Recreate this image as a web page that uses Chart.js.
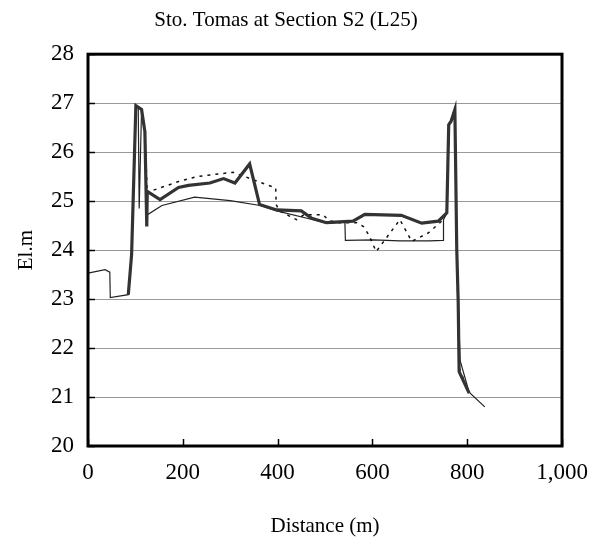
<!DOCTYPE html>
<html>
<head>
<meta charset="utf-8">
<script src="https://cdn.jsdelivr.net/npm/chart.js@4.4.1/dist/chart.umd.min.js"></script>
<style>
  html, body { margin: 0; padding: 0; background: #fff; }
  #wrap { width: 595px; height: 543px; }
</style>
</head>
<body>
<div id="wrap"><canvas id="c" width="595" height="543"></canvas></div>
<script>
// ===== data (distance m, elevation m) =====
const chartTitle = 'Sto. Tomas at Section S2 (L25)';
const xTicks = [0, 200, 400, 600, 800, 1000];

// thick line
const thickX = [85, 92, 101, 113, 120, 124, 125, 152, 191, 212, 257, 286, 310, 341, 362, 398, 450, 472, 503, 559, 584, 661, 704, 739, 757, 761, 766, 774, 778, 781, 783, 804];
const thickY = [23.09, 23.91, 26.95, 26.87, 26.42, 24.48, 25.2, 25.03, 25.28, 25.32, 25.37, 25.46, 25.37, 25.76, 24.93, 24.82, 24.8, 24.65, 24.56, 24.59, 24.73, 24.71, 24.55, 24.59, 24.76, 26.56, 26.63, 26.87, 24.0, 22.94, 21.52, 21.08];

// dotted line
const dotX = [85, 92, 101, 113, 120, 125, 137, 191, 229, 306, 359, 396, 397, 404, 440, 455, 496, 509, 530, 567, 581, 593, 608, 658, 683, 718, 746, 757, 762, 774, 778, 783, 804];
const dotY = [23.09, 23.91, 26.95, 26.87, 26.42, 25.15, 25.22, 25.4, 25.5, 25.59, 25.4, 25.27, 24.93, 24.8, 24.62, 24.72, 24.72, 24.6, 24.56, 24.56, 24.48, 24.3, 23.97, 24.62, 24.18, 24.35, 24.59, 24.76, 26.56, 26.87, 24.0, 21.6, 21.08];

// thin line
const thinX = [0, 36, 46, 47, 85, 92, 101, 106, 108, 113, 120, 125, 156, 225, 300, 363, 398, 475, 503, 542, 543, 602, 658, 721, 749, 750, 757, 762, 765, 774, 778, 781, 785, 804, 837];
const thinY = [23.53, 23.6, 23.55, 23.03, 23.09, 23.9, 26.95, 26.9, 24.85, 26.87, 26.42, 24.72, 24.91, 25.08, 25.01, 24.91, 24.8, 24.62, 24.55, 24.57, 24.2, 24.21, 24.19, 24.19, 24.2, 24.62, 24.76, 26.6, 26.63, 26.87, 24.0, 22.94, 21.75, 21.1, 20.8];

const pts = (xs, ys) => xs.map((x, i) => ({ x, y: ys[i] }));

// plot frame + inward ticks
const framePlugin = {
  id: 'frame',
  afterDraw(chart) {
    const { ctx, chartArea: a, scales } = chart;
    ctx.save();
    ctx.strokeStyle = '#000';
    ctx.lineWidth = 1.5;
    xTicks.forEach(v => {
      const px = Math.round(scales.x.getPixelForValue(v)) + 0.5;
      ctx.beginPath(); ctx.moveTo(px, a.bottom); ctx.lineTo(px, a.bottom - 7); ctx.stroke();
    });
    for (let v = 20; v <= 28; v++) {
      const py = Math.round(scales.y.getPixelForValue(v)) + 0.5;
      ctx.beginPath(); ctx.moveTo(a.left, py); ctx.lineTo(a.left + 7, py); ctx.stroke();
    }
    ctx.lineWidth = 3;
    ctx.strokeRect(a.left, a.top, a.right - a.left, a.bottom - a.top);
    ctx.restore();
  }
};

new Chart(document.getElementById('c').getContext('2d'), {
  type: 'line',
  data: {
    datasets: [
      { label: 'thick', data: pts(thickX, thickY), borderColor: '#333', borderWidth: 3.2, pointRadius: 0, tension: 0, fill: false },
      { label: 'dotted', data: pts(dotX, dotY), borderColor: '#111', borderWidth: 1.5, borderDash: [3, 5], pointRadius: 0, tension: 0, fill: false },
      { label: 'thin', data: pts(thinX, thinY), borderColor: '#222', borderWidth: 1.2, pointRadius: 0, tension: 0, fill: false }
    ]
  },
  options: {
    responsive: false,
    animation: false,
    layout: { padding: { left: 10, right: 33, top: 0, bottom: 0 } },
    plugins: {
      legend: { display: false },
      tooltip: { enabled: false },
      title: {
        display: true, text: chartTitle, color: '#000',
        font: { family: 'Liberation Serif', size: 21, weight: 'normal' },
        padding: { top: 8, bottom: 21 }
      }
    },
    scales: {
      x: {
        type: 'linear', min: 0, max: 1000,
        afterBuildTicks: (s) => { s.ticks = xTicks.map(v => ({ value: v })); },
        ticks: { color: '#000', font: { family: 'Liberation Serif', size: 23 }, padding: 5, maxRotation: 0,
                 callback: (v) => Number(v).toLocaleString('en-US') },
        grid: { display: false },
        border: { display: false },
        title: { display: true, text: 'Distance (m)', color: '#000', font: { family: 'Liberation Serif', size: 21 }, padding: { top: 16, bottom: 4 } },
        afterFit: (s) => { s.height = 97; }
      },
      y: {
        min: 20, max: 28,
        ticks: { stepSize: 1, color: '#000', font: { family: 'Liberation Serif', size: 23 }, padding: 14 },
        grid: { color: '#999', lineWidth: 1, drawTicks: false },
        border: { display: false },
        title: { display: true, text: 'El.m', color: '#000', font: { family: 'Liberation Serif', size: 21 }, padding: { bottom: 8 } },
        afterFit: (s) => { s.width = 78; }
      }
    }
  },
  plugins: [framePlugin]
});
</script>
</body>
</html>
